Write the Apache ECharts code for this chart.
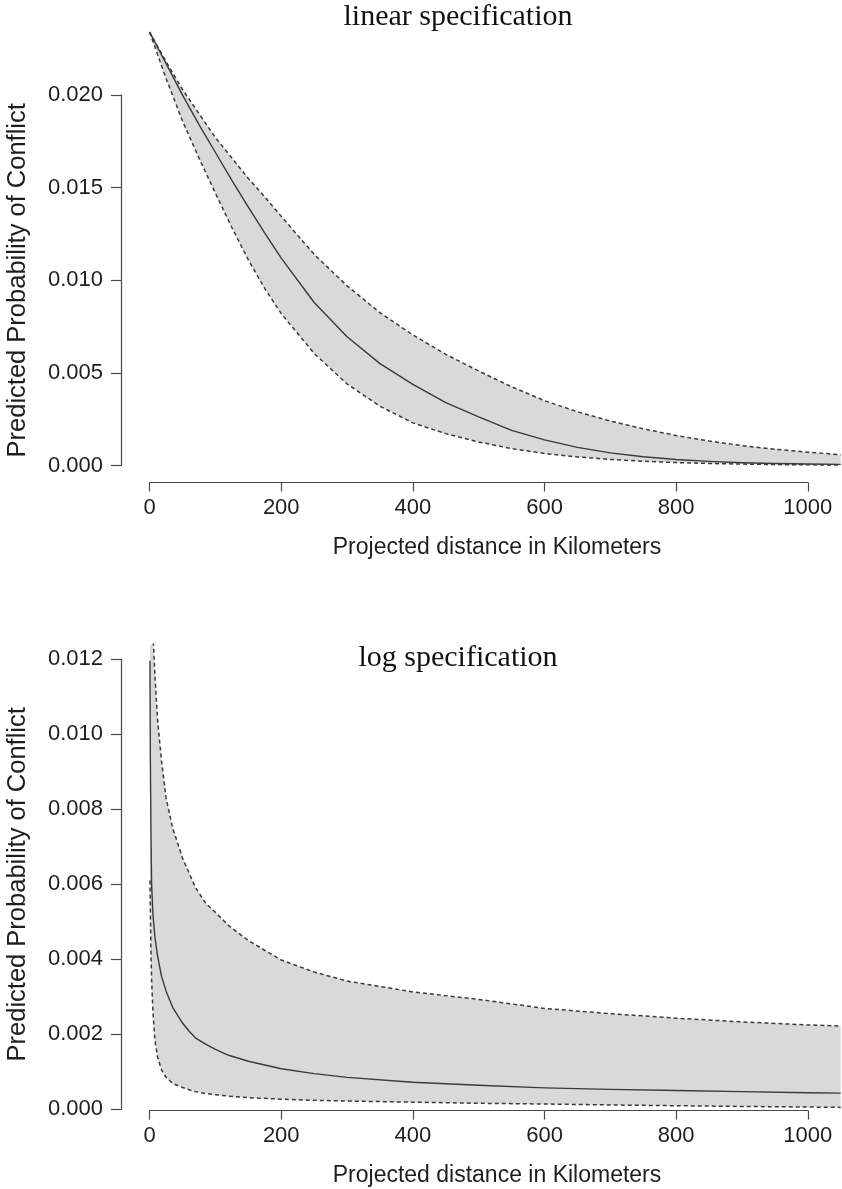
<!DOCTYPE html>
<html>
<head>
<meta charset="utf-8">
<script src="https://cdn.jsdelivr.net/npm/echarts@6/dist/echarts.min.js"></script>
<style>
  html, body { margin: 0; padding: 0; background: #ffffff; }
  #chart { width: 842px; height: 1189px; }
</style>
</head>
<body>
<div id="chart"></div>
<script>
// ---------- data ----------
// Top panel: linear specification
const LIN_DIST   = [0, 25, 50, 75, 100, 125, 150, 175, 200, 250, 300, 350, 400, 450, 500, 550, 600, 650, 700, 750, 800, 850, 900, 950, 1000, 1050];
const LIN_CENTER = [0.0234, 0.0217, 0.0200, 0.0184, 0.0169, 0.0154, 0.01395, 0.01255, 0.0112, 0.0088, 0.00695, 0.0055, 0.00438, 0.0034, 0.00262, 0.0019, 0.00138, 0.00098, 0.00068, 0.00047, 0.00032, 0.00022, 0.00015, 0.00011, 0.00008, 0.00006];
const LIN_UPPER  = [0.0234, 0.0218, 0.0203, 0.0190, 0.0177, 0.0166, 0.0155, 0.0145, 0.01345, 0.0114, 0.0097, 0.00825, 0.00705, 0.0060, 0.0051, 0.00425, 0.0035, 0.0029, 0.0024, 0.00198, 0.00162, 0.00132, 0.00107, 0.00088, 0.00072, 0.00058];
const LIN_LOWER  = [0.0234, 0.0209, 0.0186, 0.0166, 0.0147, 0.01285, 0.0111, 0.00955, 0.0082, 0.00605, 0.0044, 0.0032, 0.0023, 0.00172, 0.00127, 0.00091, 0.00065, 0.00046, 0.00033, 0.00023, 0.00016, 0.00011, 0.000075, 0.00005, 0.000035, 0.000025];

// Bottom panel: log specification
const LOG_DIST   = [0.5, 1, 2, 3, 5, 8, 12, 18, 25, 35, 50, 60, 70, 85, 100, 120, 150, 200, 250, 300, 400, 500, 600, 700, 800, 900, 1000, 1050];
const LOG_CENTER = [0.01196, 0.0096, 0.0074, 0.0060, 0.0052, 0.0046, 0.0041, 0.00355, 0.00315, 0.00272, 0.0023, 0.00208, 0.0019, 0.00174, 0.0016, 0.00144, 0.00128, 0.00108, 0.00095, 0.00085, 0.00072, 0.00064, 0.00057, 0.00053, 0.00050, 0.00047, 0.00044, 0.00043];
const LOG_UPPER  = [0.019, 0.017, 0.015, 0.014, 0.0127, 0.0116, 0.0104, 0.0093, 0.0083, 0.0075, 0.0067, 0.0063, 0.0059, 0.0055, 0.00525, 0.0049, 0.0045, 0.00398, 0.00366, 0.00342, 0.00313, 0.00293, 0.00269, 0.00255, 0.00243, 0.00233, 0.00225, 0.00222];
const LOG_LOWER  = [0.0061, 0.0054, 0.0042, 0.00345, 0.0026, 0.00185, 0.0014, 0.00105, 0.00085, 0.00069, 0.00058, 0.00052, 0.00047, 0.00042, 0.00039, 0.00035, 0.00031, 0.00027, 0.00024, 0.00022, 0.00019, 0.00016, 0.00014, 0.000115, 0.000095, 0.000075, 0.00006, 0.00005];

// Tick labels
const X_TICKS     = [0, 200, 400, 600, 800, 1000];
const Y_TICKS_LIN = [0.000, 0.005, 0.010, 0.015, 0.020];
const Y_TICKS_LOG = [0.000, 0.002, 0.004, 0.006, 0.008, 0.010, 0.012];

// Texts
const TITLE_LIN = 'linear specification';
const TITLE_LOG = 'log specification';
const X_LABEL = 'Projected distance in Kilometers';
const Y_LABEL = 'Predicted Probability of Conflict';

// ---------- helpers ----------
const pairs = (xs, ys) => xs.map((x, i) => [x, ys[i]]);
const triples = (xs, lo, up) => xs.map((x, i) => [x, lo[i], up[i]]);

const SANS = '"Liberation Sans", Arial, Helvetica, sans-serif';
const SERIF = '"Liberation Serif", "Times New Roman", serif';
const AXIS_COLOR = '#4a4a4a';
const LINE_COLOR = '#3a3a3a';
const BAND_COLOR = '#d9d9d9';
const TEXT_COLOR = '#1e1e1e';

const chart = echarts.init(document.getElementById('chart'), null, { renderer: 'canvas' });

// panel geometry
const PLOT_LEFT = 121, PLOT_WIDTH = 721;
const X_MIN = -43.5, X_MAX = 1052;
const AXIS_LEFT = 149.6, AXIS_WIDTH = 658.2;

function hiddenX(grid, min, max) { return { type: 'value', gridIndex: grid, show: false, min: min, max: max }; }
function hiddenY(grid, min, max) { return { type: 'value', gridIndex: grid, show: false, min: min, max: max }; }

function shownX(grid) {
  return {
    type: 'value', gridIndex: grid, position: 'bottom',
    min: X_TICKS[0], max: X_TICKS[X_TICKS.length - 1], interval: X_TICKS[1] - X_TICKS[0],
    axisLine: { show: true, lineStyle: { color: AXIS_COLOR, width: 1.2 } },
    axisTick: { show: true, length: 9, inside: false, lineStyle: { color: AXIS_COLOR, width: 1.2 } },
    axisLabel: { show: true, margin: 14, fontSize: 22, fontFamily: SANS, color: TEXT_COLOR,
                 formatter: v => String(v), showMinLabel: true, showMaxLabel: true },
    splitLine: { show: false }
  };
}
function shownY(grid, ticks) {
  return {
    type: 'value', gridIndex: grid, position: 'left',
    min: ticks[0], max: ticks[ticks.length - 1], interval: +(ticks[1] - ticks[0]).toFixed(6),
    axisLine: { show: true, lineStyle: { color: AXIS_COLOR, width: 1.2 } },
    axisTick: { show: true, length: 10, inside: false, lineStyle: { color: AXIS_COLOR, width: 1.2 } },
    axisLabel: { show: true, margin: 18, fontSize: 22, fontFamily: SANS, color: TEXT_COLOR,
                 formatter: v => v.toFixed(3), showMinLabel: true, showMaxLabel: true },
    splitLine: { show: false },
    name: Y_LABEL, nameLocation: 'middle', nameGap: 90, nameRotate: 90,
    nameTextStyle: { fontSize: 25.5, fontFamily: SANS, color: TEXT_COLOR }
  };
}

// shaded confidence band: one polygon through the library's coordinate mapping
function bandSeries(ax, dist, lower, upper) {
  return {
    type: 'custom', xAxisIndex: ax, yAxisIndex: ax, silent: true, animation: false, clip: true, z: 1,
    data: triples(dist, lower, upper),
    encode: { x: 0, y: [1, 2] },
    renderItem: function (params, api) {
      if (params.dataIndexInside !== 0) return null;
      const n = params.dataInsideLength;
      const top = [], bottom = [];
      for (let j = 0; j < n; j++) {
        const x = api.value(0, j);
        top.push(api.coord([x, api.value(2, j)]));
        bottom.push(api.coord([x, api.value(1, j)]));
      }
      const pts = top.concat(bottom.reverse());
      const cs = params.coordSys;
      return {
        type: 'polygon',
        shape: { points: pts },
        style: { fill: BAND_COLOR, stroke: null },
        clipPath: { type: 'rect', shape: { x: cs.x, y: cs.y, width: cs.width, height: cs.height } }
      };
    }
  };
}
function curve(ax, dist, vals, dashed) {
  return { type: 'line', xAxisIndex: ax, yAxisIndex: ax, symbol: 'none', showSymbol: false, silent: true,
           animation: false, smooth: false, clip: true, data: pairs(dist, vals), z: 3,
           lineStyle: { color: LINE_COLOR, width: dashed ? 1.5 : 1.4, type: dashed ? [4, 3] : 'solid',
                        join: 'round' } };
}

const option = {
  backgroundColor: '#ffffff',
  animation: false,
  title: [
    { text: TITLE_LIN, left: 458, top: 2, textAlign: 'center', padding: 0,
      textStyle: { fontFamily: SERIF, fontSize: 30, fontWeight: 'normal', color: '#111' } },
    { text: TITLE_LOG, left: 458, top: 643, textAlign: 'center', padding: 0,
      textStyle: { fontFamily: SERIF, fontSize: 30, fontWeight: 'normal', color: '#111' } },
    { text: X_LABEL, left: 497, top: 536, textAlign: 'center', padding: 0,
      textStyle: { fontFamily: SANS, fontSize: 23, fontWeight: 'normal', color: TEXT_COLOR } },
    { text: X_LABEL, left: 497, top: 1164, textAlign: 'center', padding: 0,
      textStyle: { fontFamily: SANS, fontSize: 23, fontWeight: 'normal', color: TEXT_COLOR } }
  ],
  grid: [
    // top panel: data, x-axis, y-axis
    { left: PLOT_LEFT, width: PLOT_WIDTH, top: 14.7, height: 468.2 },
    { left: AXIS_LEFT, width: AXIS_WIDTH, top: 481.5, height: 1 },
    { left: PLOT_LEFT, width: 1, top: 95.1, height: 370.4 },
    // bottom panel
    { left: PLOT_LEFT, width: PLOT_WIDTH, top: 644.3, height: 466.1 },
    { left: AXIS_LEFT, width: AXIS_WIDTH, top: 1109.5, height: 1 },
    { left: PLOT_LEFT, width: 1, top: 659.3, height: 450 }
  ],
  xAxis: [
    hiddenX(0, X_MIN, X_MAX),
    shownX(1),
    hiddenX(2, 0, 1),
    hiddenX(3, X_MIN, X_MAX),
    shownX(4),
    hiddenX(5, 0, 1)
  ],
  yAxis: [
    hiddenY(0, -0.00094, 0.02434),
    hiddenY(1, 0, 1),
    shownY(2, Y_TICKS_LIN),
    hiddenY(3, -0.00003, 0.0124),
    hiddenY(4, 0, 1),
    shownY(5, Y_TICKS_LOG)
  ],
  series: [
    bandSeries(0, LIN_DIST, LIN_LOWER, LIN_UPPER),
    curve(0, LIN_DIST, LIN_UPPER, true),
    curve(0, LIN_DIST, LIN_LOWER, true),
    curve(0, LIN_DIST, LIN_CENTER, false),
    bandSeries(3, LOG_DIST, LOG_LOWER, LOG_UPPER),
    curve(3, LOG_DIST, LOG_UPPER, true),
    curve(3, LOG_DIST, LOG_LOWER, true),
    curve(3, LOG_DIST, LOG_CENTER, false)
  ]
};
chart.setOption(option);
</script>
</body>
</html>
